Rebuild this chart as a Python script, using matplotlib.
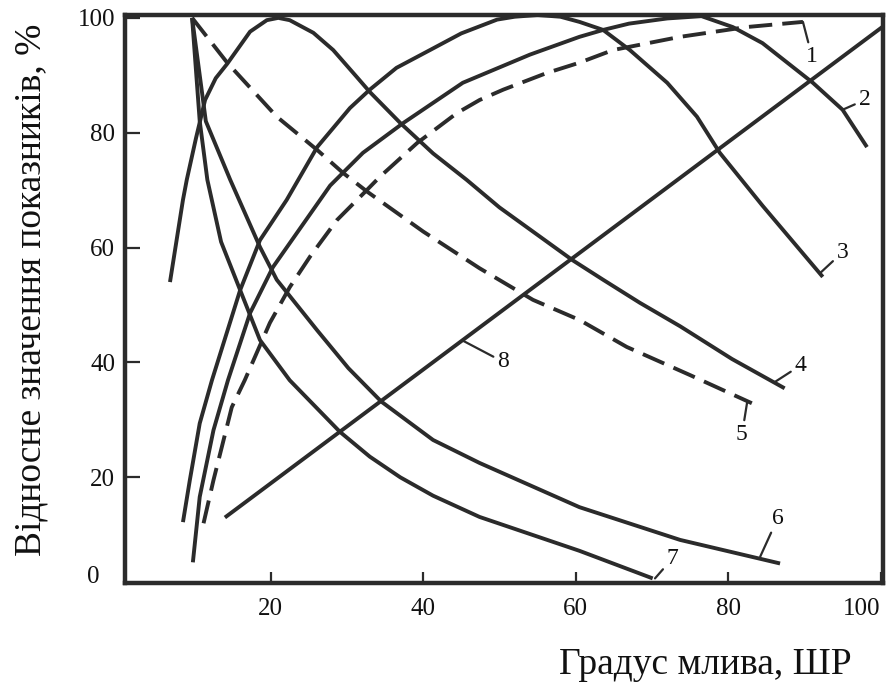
import matplotlib
matplotlib.use("Agg")
import matplotlib.pyplot as plt

# curves (x = grinding degree, y = relative value, %)
c1_x = [11.2, 12.5, 13.6, 14.9, 16.6, 19.9, 22.5, 25.2, 28.7, 32.6, 34.3, 39.2, 44.4, 47.4, 50.5, 56.2, 60.5, 64.9, 73.7, 82.4, 89.8]
c1_y = [12.0, 19.5, 25.3, 32.2, 36.9, 46.9, 53.1, 58.5, 64.8, 70.0, 72.3, 78.2, 83.4, 85.7, 87.5, 90.4, 92.2, 94.4, 96.7, 98.4, 99.3]

c2_x = [9.8, 10.7, 12.5, 14.4, 17.3, 20.3, 27.8, 32.1, 37.4, 45.2, 54.0, 60.5, 63.6, 67.0, 72.0, 76.5, 80.6, 84.5, 91.1, 95.0, 98.2]
c2_y = [5.2, 16.6, 28.2, 36.9, 48.6, 56.6, 70.8, 76.5, 81.7, 88.7, 93.6, 96.7, 97.9, 99.0, 99.9, 100.3, 98.4, 95.6, 88.7, 84.0, 77.5]

c3_x = [8.5, 9.4, 10.7, 12.3, 16.0, 18.6, 22.1, 26.1, 30.4, 33.0, 36.5, 40.9, 45.0, 49.7, 52.0, 55.0, 58.0, 60.5, 63.6, 67.1, 72.0, 75.9, 78.9, 84.5, 92.4]
c3_y = [12.2, 19.5, 29.4, 36.9, 52.6, 61.3, 68.3, 77.5, 84.3, 87.5, 91.3, 94.4, 97.3, 99.7, 100.2, 100.5, 100.2, 99.3, 97.9, 94.4, 88.7, 82.8, 76.5, 67.3, 54.9]

c4_x = [6.8, 8.5, 9.0, 10.2, 11.4, 12.8, 14.3, 17.3, 19.5, 21.0, 22.5, 25.6, 28.2, 31.3, 33.0, 37.0, 41.3, 45.7, 50.0, 59.6, 63.6, 68.4, 73.7, 80.5, 87.4]
c4_y = [54.0, 68.3, 71.8, 79.0, 85.7, 89.5, 92.0, 97.6, 99.6, 100.0, 99.6, 97.4, 94.4, 89.7, 87.1, 81.7, 76.4, 71.8, 67.0, 57.8, 54.4, 50.4, 46.3, 40.6, 35.5]

c5_x = [9.7, 14.3, 20.8, 26.1, 29.5, 32.7, 40.0, 47.4, 54.4, 60.5, 66.7, 75.0, 83.1]
c5_y = [100.0, 92.2, 82.8, 77.0, 73.0, 69.7, 62.8, 56.4, 50.9, 47.4, 42.7, 37.8, 32.9]

c6_x = [9.7, 11.5, 14.7, 18.6, 20.8, 26.1, 30.2, 34.5, 41.3, 47.4, 60.5, 73.7, 86.8]
c6_y = [100.0, 82.0, 71.8, 60.1, 54.4, 45.6, 39.0, 33.2, 26.5, 22.5, 14.8, 9.1, 5.0]

c7_x = [9.7, 10.7, 11.7, 13.5, 16.0, 18.6, 22.5, 29.1, 33.0, 37.0, 41.3, 47.4, 60.5, 70.1]
c7_y = [100.0, 82.0, 71.8, 61.0, 52.6, 43.9, 36.9, 27.9, 23.6, 20.0, 16.8, 13.1, 7.2, 2.4]

c8_x = [14.0, 100.3]
c8_y = [13.0, 98.5]

curve_names = ["1", "2", "3", "4", "5", "6", "7", "8"]
label_x = [91.0, 97.9, 95.0, 89.5, 81.8, 86.5, 72.7, 50.5]
label_y = [93.2, 85.7, 59.2, 39.5, 27.4, 12.9, 5.9, 40.1]
anchor_x = [89.8, 95.0, 92.0, 86.0, 82.5, 84.2, 70.4, 45.2]
anchor_y = [99.3, 84.0, 55.5, 36.5, 33.2, 6.2, 2.4, 43.8]

xticks = [20, 40, 60, 80, 100]
yticks = [20, 40, 60, 80, 100]

ink = "#2b2b2b"
serif = ["Liberation Serif", "DejaVu Serif"]

fig = plt.figure(figsize=(8.94, 6.91), dpi=100)
ax = fig.add_axes([125 / 894, 1 - 583 / 691, 758 / 894, 568 / 691])

lw = 2.8
solid = [(c2_x, c2_y), (c3_x, c3_y), (c4_x, c4_y), (c6_x, c6_y), (c7_x, c7_y), (c8_x, c8_y)]
for xs, ys in solid:
    ax.plot(xs, ys, color=ink, lw=lw, solid_capstyle="butt", solid_joinstyle="round", clip_on=False)
for xs, ys in [(c1_x, c1_y), (c5_x, c5_y)]:
    ax.plot(xs, ys, color=ink, lw=lw, dashes=(6, 2.6), dash_capstyle="butt", clip_on=False)

# curve numbers with short leaders
for name, lx, ly, axx, ayy in zip(curve_names, label_x, label_y, anchor_x, anchor_y):
    ax.annotate(name, xy=(axx, ayy), xytext=(lx, ly), fontsize=17, family=serif,
                ha="center", va="center", color="#111111",
                arrowprops=dict(arrowstyle="-", color=ink, lw=1.6, shrinkA=1, shrinkB=0))

ax.set_xlim(0.9, 100.3)
ax.set_ylim(1.6, 100.5)
ax.set_xticks(xticks)
ax.set_yticks(yticks)
ax.tick_params(axis="x", direction="in", length=8, width=1.6, pad=11, labelsize=18, colors=ink, labelcolor="#111111")
ax.tick_params(axis="y", direction="in", length=11, width=1.6, pad=7, labelsize=18, colors=ink, labelcolor="#111111")
for lab in ax.get_xticklabels() + ax.get_yticklabels():
    lab.set_family(serif)
ax.get_xticklabels()[-1].set_horizontalalignment("right")
for sp in ax.spines.values():
    sp.set_linewidth(3.2)
    sp.set_color(ink)

ax.text(-0.033, 0.01, "0", transform=ax.transAxes, ha="right", va="center",
        fontsize=18, family=serif, color="#111111")

fig.text(31 / 894, 1 - 290 / 691, "Відносне значення показників, %", rotation=90,
         ha="center", va="center", fontsize=27, family=serif, color="#111111")
fig.text(705 / 894, 1 - 665 / 691, "Градус млива, ШР", ha="center", va="center",
         fontsize=27, family=serif, color="#111111")

fig.savefig("out.png", dpi=100)
